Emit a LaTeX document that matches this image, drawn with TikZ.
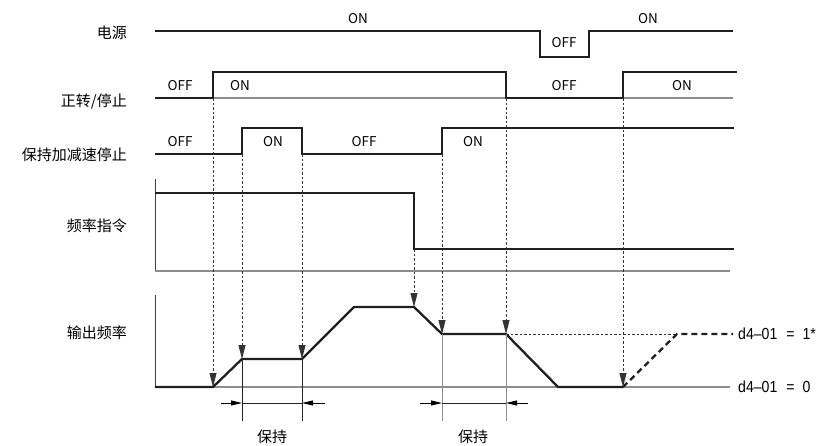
\documentclass[tikz,border=0pt]{standalone}
\usepackage{fontspec}
\setmainfont{Noto Sans CJK SC}
\newfontfamily\lsans[FakeStretch=0.88]{Liberation Sans}
\usetikzlibrary{arrows.meta}
\begin{document}
\begin{tikzpicture}[x=1pt,y=-1pt,
  sig/.style={line width=2.3pt, line join=miter, draw=black!88},
  basel/.style={line width=1.1pt, draw=black!45},
  axisl/.style={line width=1pt, draw=black!75},
  guide/.style={line width=0.9pt, dash pattern=on 2.5pt off 2pt, draw=black!80},
  guidearrow/.style={guide, -{Triangle[length=14pt,width=7pt]}},
  thinl/.style={line width=0.9pt, draw=black!85},
  grayl/.style={line width=0.9pt, draw=black!45},
  dimarrow/.style={line width=0.9pt, -{Triangle[length=11pt,width=5pt]}},
  lbl/.style={anchor=east, inner sep=0pt, font=\fontsize{15}{15}\selectfont},
  st/.style={inner sep=0pt, font=\fontsize{13.5}{13.5}\selectfont},
  dl/.style={anchor=west, inner sep=0pt, font=\lsans\fontsize{16}{16}\selectfont},
  holdlbl/.style={inner sep=0pt, font=\fontsize{15}{15}\selectfont}
]
\useasboundingbox (0,0) rectangle (817,445);

% row labels
\node[lbl] (lpwr) at (127,33) {电源};
\node[lbl] (lrun) at (127,102) {正转/停止};
\node[lbl] (lhold) at (127,155) {保持加减速停止};
\node[lbl] (lref) at (127,226) {频率指令};
\node[lbl] (lout) at (127,333) {输出频率};

% power supply
\draw[sig] (155,31) -- (540,31) -- (540,57) -- (589,57) -- (589,31) -- (733,31);
\node[st] (p1) at (358,19) {ON};
\node[st] (p2) at (564,43) {OFF};
\node[st] (p3) at (648,19) {ON};

% forward run / stop
\draw[basel] (155,98) -- (733,98);
\draw[sig] (155,98) -- (213,98) -- (213,72) -- (506,72) -- (506,98) -- (623,98) -- (623,72) -- (737,72);
\node[st] (r1) at (180,86) {OFF};
\node[st] (r2) at (240,86) {ON};
\node[st] (r3) at (564,86) {OFF};
\node[st] (r4) at (682,86) {ON};

% hold
\draw[sig] (155,154) -- (242,154) -- (242,128) -- (302,128) -- (302,154) -- (442,154) -- (442,128) -- (734,128);
\node[st] (h1) at (180,142) {OFF};
\node[st] (h2) at (273,142) {ON};
\node[st] (h3) at (364,142) {OFF};
\node[st] (h4) at (473,142) {ON};

% frequency reference
\draw[axisl] (155,179) -- (155,271);
\draw[basel] (155,271) -- (730,271);
\draw[sig] (155,193) -- (414,193) -- (414,249) -- (734,249);

% output frequency
\draw[axisl] (155,295) -- (155,387);
\draw[basel] (155,387) -- (730,387);
\draw[guide] (506,334) -- (677,334);
\draw[sig] (155,387) -- (213,387) -- (242,359) -- (302,359) -- (354,307) -- (414,307) -- (442,334) -- (506,334) -- (558,387) -- (623,387);
\draw[line width=2.3pt, draw=black!88, dash pattern=on 6pt off 4pt] (623,387) -- (677,334) -- (733,334);
\node[dl] (d1) at (738,334) {d4–01\hspace{9pt}=\hspace{8pt}1*};
\node[dl] (d0) at (738,387) {d4–01\hspace{9pt}=\hspace{8pt}0};

% guide coordinates
\coordinate (g1s) at (213,98);  \coordinate (g1e) at (213,387);
\coordinate (g2s) at (242,154); \coordinate (g2e) at (242,359);
\coordinate (g3s) at (302,154); \coordinate (g3e) at (302,359);
\coordinate (g4s) at (414,249); \coordinate (g4e) at (414,307);
\coordinate (g5s) at (442,154); \coordinate (g5e) at (442,334);
\coordinate (g6s) at (506,98);  \coordinate (g6e) at (506,334);
\coordinate (g7s) at (623,98);  \coordinate (g7e) at (623,387);
\foreach \i in {1,...,7} { \draw[guidearrow] (g\i s) -- (g\i e); }

% hold dimension 1
\coordinate (a1b) at (242,421); \coordinate (a2b) at (302,421);
\draw[thinl] (g2e) -- (a1b);
\draw[thinl] (g3e) -- (a2b);
\coordinate (m1l) at (221,403); \coordinate (m1a) at (242,403);
\coordinate (m1r) at (325,403); \coordinate (m1b) at (302,403);
\draw[thinl] (m1a) -- (m1b);
\draw[dimarrow] (m1l) -- (m1a);
\draw[dimarrow] (m1r) -- (m1b);
\node[holdlbl] (hold1) at (272,437) {保持};

% hold dimension 2
\coordinate (b1b) at (442,421); \coordinate (b2b) at (506,421);
\draw[grayl] (g5e) -- (b1b);
\draw[grayl] (g6e) -- (b2b);
\coordinate (m2l) at (420,403); \coordinate (m2a) at (442,403);
\coordinate (m2r) at (528,403); \coordinate (m2b) at (506,403);
\draw[thinl] (m2a) -- (m2b);
\draw[dimarrow] (m2l) -- (m2a);
\draw[dimarrow] (m2r) -- (m2b);
\node[holdlbl] (hold2) at (473,437) {保持};
\end{tikzpicture}
\end{document}
